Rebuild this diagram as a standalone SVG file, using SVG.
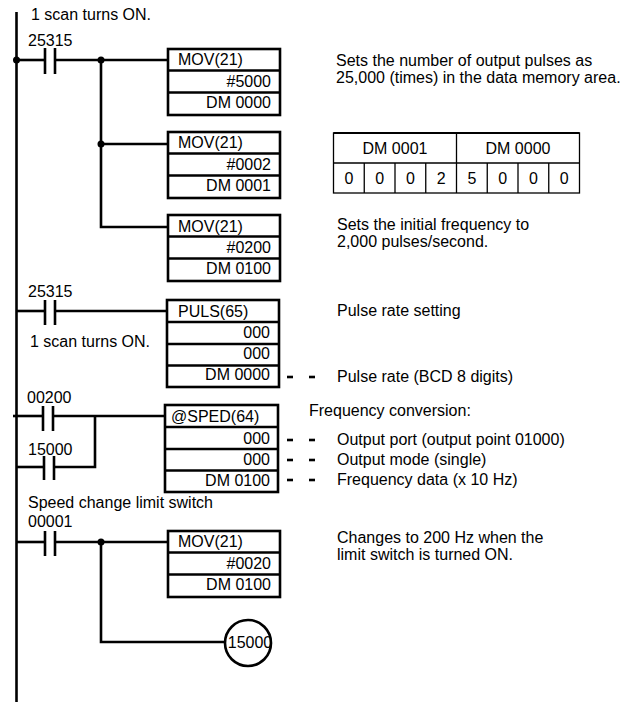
<svg xmlns="http://www.w3.org/2000/svg" width="627" height="702" viewBox="0 0 627 702">
<style>
text{font-family:"Liberation Sans",Arial,sans-serif;font-size:16px;fill:#000}
.r{text-anchor:end}
.c{text-anchor:middle}
.w{stroke:#000;stroke-width:2.6;fill:none}
.b{stroke:#000;stroke-width:2.6;fill:#fff}
.d{stroke:#000;stroke-width:2.6}
.t{stroke:#000;stroke-width:1.3;fill:none}
</style>
<defs>
<g id="mov">
<rect class="b" x="0" y="0" width="112" height="66"/>
<line class="w" x1="0" y1="21.5" x2="112" y2="21.5"/>
<line class="w" x1="0" y1="43.5" x2="112" y2="43.5"/>
</g>
</defs>
<g id="connectors">
<line class="w" x1="16.5" y1="12" x2="16.5" y2="702" stroke-width="3"/>
<polyline class="w" points="16,60 45,60"/>
<polyline class="w" points="55,60 168,60"/>
<polyline class="w" points="101,60 101,227 168,227"/>
<polyline class="w" points="101,144 168,144"/>
<polyline class="w" points="16,311 45,311"/>
<polyline class="w" points="55,311 167,311"/>
<polyline class="w" points="13,416 43,416"/>
<polyline class="w" points="53,416 165,416"/>
<polyline class="w" points="16,467 44,467"/>
<polyline class="w" points="54,467 95,467 95,416"/>
<polyline class="w" points="16,542 45,542"/>
<polyline class="w" points="55,542 168,542"/>
<polyline class="w" points="101,542 101,642 225,642"/>
<circle cx="16.5" cy="60" r="3.5"/>
<circle cx="101" cy="60" r="3.5"/>
<circle cx="101" cy="144" r="3.5"/>
<circle cx="101" cy="542" r="3.5"/>
<g class="d">
<line x1="287" y1="377" x2="293" y2="377"/><line x1="309" y1="377" x2="315" y2="377"/>
<line x1="287" y1="440" x2="293" y2="440"/><line x1="309" y1="440" x2="315" y2="440"/>
<line x1="287" y1="460" x2="293" y2="460"/><line x1="309" y1="460" x2="315" y2="460"/>
<line x1="287" y1="480" x2="293" y2="480"/><line x1="309" y1="480" x2="315" y2="480"/>
</g>
</g>
<g id="contact1">
<line class="w" x1="45" y1="48" x2="45" y2="74"/><line class="w" x1="55" y1="48" x2="55" y2="74"/>
<text x="28" y="46">25315</text>
</g>
<g id="contact2">
<line class="w" x1="45" y1="300" x2="45" y2="325"/><line class="w" x1="55" y1="300" x2="55" y2="325"/>
<text x="28" y="297">25315</text>
</g>
<g id="contact3">
<line class="w" x1="43" y1="406" x2="43" y2="431"/><line class="w" x1="53" y1="406" x2="53" y2="431"/>
<text x="27" y="403">00200</text>
</g>
<g id="contact4">
<line class="w" x1="44" y1="456" x2="44" y2="480"/><line class="w" x1="54" y1="456" x2="54" y2="480"/>
<text x="28" y="455">15000</text>
</g>
<g id="contact5">
<line class="w" x1="45" y1="531" x2="45" y2="556"/><line class="w" x1="55" y1="531" x2="55" y2="556"/>
<text x="28" y="527">00001</text>
</g>
<g id="mov1">
<use href="#mov" x="168" y="49"/>
<text x="178" y="65">MOV(21)</text>
<text class="r" x="271" y="87">#5000</text>
<text class="r" x="271" y="108">DM 0000</text>
</g>
<g id="mov2">
<use href="#mov" x="168" y="132"/>
<text x="178" y="148">MOV(21)</text>
<text class="r" x="271" y="170">#0002</text>
<text class="r" x="271" y="191">DM 0001</text>
</g>
<g id="mov3">
<use href="#mov" x="168" y="215"/>
<text x="178" y="232">MOV(21)</text>
<text class="r" x="271" y="253">#0200</text>
<text class="r" x="271" y="274">DM 0100</text>
</g>
<g id="puls">
<rect class="b" x="167" y="300" width="112" height="87"/>
<line class="w" x1="167" y1="322" x2="279" y2="322"/>
<line class="w" x1="167" y1="344" x2="279" y2="344"/>
<line class="w" x1="167" y1="365.5" x2="279" y2="365.5"/>
<text x="178" y="317">PULS(65)</text>
<text class="r" x="270" y="338">000</text>
<text class="r" x="270" y="359">000</text>
<text class="r" x="270" y="380">DM 0000</text>
</g>
<g id="sped">
<rect class="b" x="165" y="405" width="113" height="87"/>
<line class="w" x1="165" y1="427" x2="278" y2="427"/>
<line class="w" x1="165" y1="449" x2="278" y2="449"/>
<line class="w" x1="165" y1="470.5" x2="278" y2="470.5"/>
<text x="171" y="422">@SPED(64)</text>
<text class="r" x="270" y="444">000</text>
<text class="r" x="270" y="465">000</text>
<text class="r" x="270" y="486">DM 0100</text>
</g>
<g id="mov4">
<use href="#mov" x="168" y="531"/>
<text x="178" y="547">MOV(21)</text>
<text class="r" x="271" y="569">#0020</text>
<text class="r" x="271" y="590">DM 0100</text>
</g>
<g id="coil">
<circle class="w" cx="248" cy="643" r="23"/>
<text class="c" x="250" y="648">15000</text>
</g>
<g id="dmtable">
<rect class="t" x="333.5" y="133" width="246" height="60"/>
<line x1="333.5" y1="133" x2="579.5" y2="133" stroke="#000" stroke-width="2"/>
<line class="t" x1="333.5" y1="163" x2="579.5" y2="163"/>
<line class="t" x1="456.5" y1="133" x2="456.5" y2="193"/>
<line class="t" x1="364.25" y1="163" x2="364.25" y2="193"/>
<line class="t" x1="395" y1="163" x2="395" y2="193"/>
<line class="t" x1="425.75" y1="163" x2="425.75" y2="193"/>
<line class="t" x1="487.25" y1="163" x2="487.25" y2="193"/>
<line class="t" x1="518" y1="163" x2="518" y2="193"/>
<line class="t" x1="548.75" y1="163" x2="548.75" y2="193"/>
<text class="c" x="395" y="154">DM 0001</text>
<text class="c" x="518" y="154">DM 0000</text>
<text class="c" x="348.9" y="184">0</text>
<text class="c" x="379.6" y="184">0</text>
<text class="c" x="410.4" y="184">0</text>
<text class="c" x="441.1" y="184">2</text>
<text class="c" x="471.9" y="184">5</text>
<text class="c" x="502.6" y="184">0</text>
<text class="c" x="533.4" y="184">0</text>
<text class="c" x="564.1" y="184">0</text>
</g>
<g id="notes">
<text x="31" y="20">1 scan turns ON.</text>
<text x="30" y="347">1 scan turns ON.</text>
<text x="28" y="508">Speed change limit switch</text>
<text x="336" y="66">Sets the number of output pulses as</text>
<text x="336" y="82.5">25,000 (times) in the data memory area.</text>
<text x="337" y="230">Sets the initial frequency to</text>
<text x="337" y="247">2,000 pulses/second.</text>
<text x="337" y="316">Pulse rate setting</text>
<text x="337" y="382">Pulse rate (BCD 8 digits)</text>
<text x="309" y="416">Frequency conversion:</text>
<text x="337" y="445">Output port (output point 01000)</text>
<text x="337" y="465">Output mode (single)</text>
<text x="337" y="485">Frequency data (x 10 Hz)</text>
<text x="337" y="543">Changes to 200 Hz when the</text>
<text x="337" y="560">limit switch is turned ON.</text>
</g>
</svg>
